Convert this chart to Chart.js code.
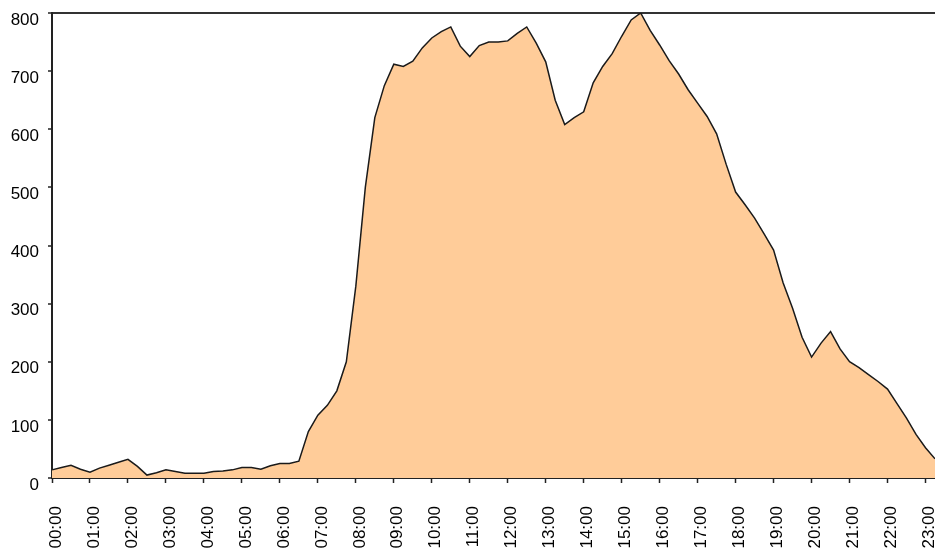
<!DOCTYPE html>
<html>
<head>
<meta charset="utf-8">
<script src="https://cdn.jsdelivr.net/npm/chart.js@4.4.1/dist/chart.umd.min.js"></script>
<style>
  html, body { margin: 0; padding: 0; background: #fff; }
</style>
</head>
<body>
<canvas id="loadChart" width="935" height="551"></canvas>
<script>
// hour labels on the axis, samples every 15 minutes
const hourLabels = [
  "00:00", "01:00", "02:00", "03:00", "04:00", "05:00", "06:00", "07:00",
  "08:00", "09:00", "10:00", "11:00", "12:00", "13:00", "14:00", "15:00",
  "16:00", "17:00", "18:00", "19:00", "20:00", "21:00", "22:00", "23:00"
];
const samplesPerHour = 4;

const values = [
  14, 18, 22, 15, 10, 17, 22, 27, 32, 20, 5, 9,
  14, 11, 8, 8, 8, 11, 12, 14, 18, 18, 15, 21,
  25, 25, 29, 80, 108, 125, 150, 200, 330, 500, 620, 675,
  712, 708, 717, 740, 757, 768, 776, 743, 725, 744, 750, 750,
  752, 765, 776, 748, 716, 650, 608, 620, 630, 680, 708, 730,
  760, 788, 800, 770, 745, 718, 695, 668, 645, 622, 592, 540,
  492, 470, 447, 420, 392, 336, 292, 242, 208, 232, 252, 222,
  200, 190, 178, 166, 153, 128, 103, 75, 52, 33
];

// one category per sample, only the full hours carry a label
const labels = [];
for (let i = 0; i < values.length; i++) {
  labels.push(i % samplesPerHour === 0 ? hourLabels[i / samplesPerHour] : "");
}

const axisColor = "#222";
const font = { family: "'Liberation Sans', Arial, sans-serif", size: 17 };

const ctx = document.getElementById("loadChart").getContext("2d");
new Chart(ctx, {
  type: "line",
  data: {
    labels: labels,
    datasets: [{
      data: values,
      borderColor: "#1a1a1a",
      borderWidth: 1.5,
      backgroundColor: "#FFCC99",
      fill: "origin",
      tension: 0,
      pointRadius: 0
    }]
  },
  options: {
    responsive: false,
    animation: false,
    layout: { padding: { top: 13, left: 10, right: 0, bottom: 2 } },
    plugins: { legend: { display: false }, tooltip: { enabled: false } },
    scales: {
      x: {
        z: 1,
        offset: false,
        border: { color: axisColor, width: 2 },
        grid: {
          drawOnChartArea: false,
          tickLength: 5,
          tickWidth: 1.5,
          tickColor: c => (labels[c.index] ? axisColor : "rgba(0,0,0,0)")
        },
        ticks: {
          autoSkip: false,
          minRotation: 90,
          maxRotation: 90,
          padding: 23,
          labelOffset: 4,
          color: "#000",
          font: font,
          callback: (v, i) => labels[i]
        },
        afterFit: s => {
          s.height = 71;
          s.paddingLeft = 0;
          s.paddingRight = 0;
        }
      },
      y: {
        z: 1,
        min: 0,
        max: 800,
        border: { color: axisColor, width: 2 },
        grid: {
          drawOnChartArea: true,
          lineWidth: 2,
          color: c => (c.tick && c.tick.value === 800 ? "#333" : "rgba(0,0,0,0)"),
          tickColor: axisColor,
          tickLength: 4,
          tickWidth: 1.5
        },
        ticks: {
          stepSize: 100,
          padding: 9,
          labelOffset: 7,
          color: "#000",
          font: font
        },
        afterFit: s => {
          s.width = 42;
          s.paddingTop = 0;
          s.paddingBottom = 0;
        }
      }
    }
  }
});
</script>
</body>
</html>
